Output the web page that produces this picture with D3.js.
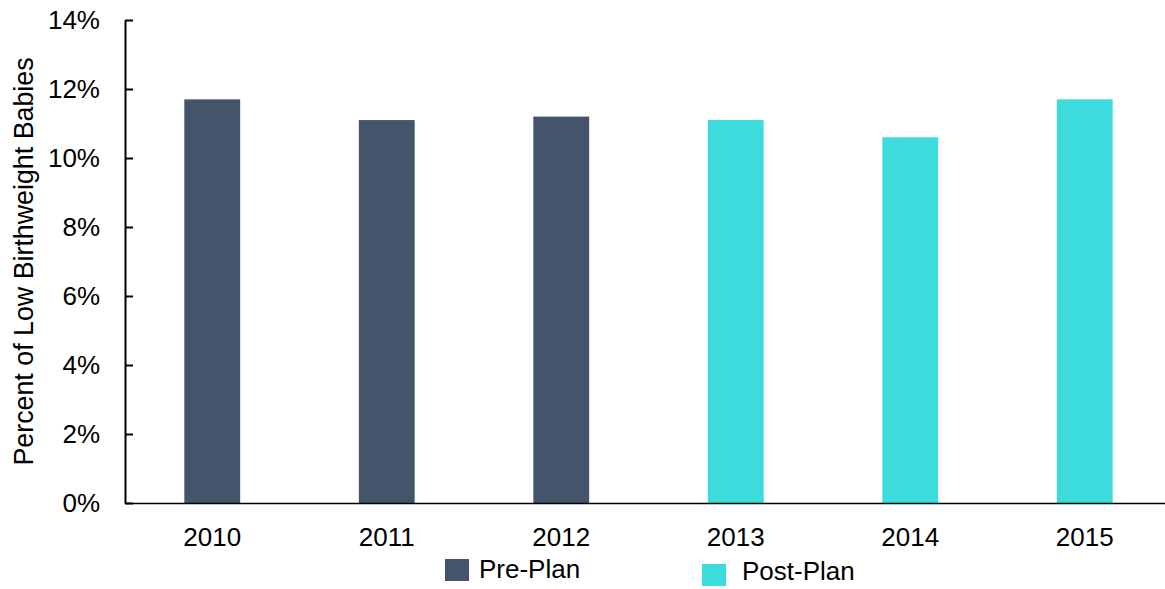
<!DOCTYPE html>
<html>
<head>
<meta charset="utf-8">
<script src="https://cdn.jsdelivr.net/npm/d3@7"></script>
<style>
  html, body { margin: 0; padding: 0; background: #fff; }
  svg { display: block; font-family: "Liberation Sans", Arial, sans-serif; }
</style>
</head>
<body>
<svg id="chart" width="1165" height="589"></svg>
<script>
const years = ["2010", "2011", "2012", "2013", "2014", "2015"];
const values = [11.7, 11.1, 11.2, 11.1, 10.6, 11.7];
const phases = ["Pre-Plan", "Pre-Plan", "Pre-Plan", "Post-Plan", "Post-Plan", "Post-Plan"];
const legendLabels = ["Pre-Plan", "Post-Plan"];
const yTicks = [0, 2, 4, 6, 8, 10, 12, 14];
const colors = ["#44546A", "#3DDCDC"];

(function () {
const svg = d3.select("#chart");
const mLeft = 125, mRight = 1172, mTop = 20, mBottom = 503;
const fs = 26;

const x = d3.scaleBand().domain(years).range([mLeft, mRight])
  .paddingInner(0.68).paddingOuter(0.34);
const y = d3.scaleLinear().domain([0, 14]).range([mBottom, mTop]);
const color = d3.scaleOrdinal().domain(legendLabels).range(colors);

// bars
svg.append("g").selectAll("rect")
  .data(years.map((yr, i) => ({ yr, v: values[i], p: phases[i] })))
  .join("rect")
  .attr("x", d => x(d.yr))
  .attr("y", d => y(d.v))
  .attr("width", x.bandwidth())
  .attr("height", d => y(0) - y(d.v))
  .attr("fill", d => color(d.p));

// y axis
const yAxis = svg.append("g")
  .attr("transform", `translate(${mLeft},0)`)
  .call(d3.axisLeft(y).tickValues(yTicks).tickFormat(d => d + "%")
    .tickSize(-8).tickSizeOuter(0).tickPadding(25));
yAxis.select(".domain").attr("stroke", "#000").attr("stroke-width", 2);
yAxis.selectAll(".tick line").attr("stroke", "#000").attr("stroke-width", 2);
yAxis.selectAll(".tick text").attr("font-size", fs).attr("fill", "#000")
  .attr("font-family", "'Liberation Sans', Arial, sans-serif");

// x axis
const xAxis = svg.append("g")
  .attr("transform", `translate(0,${mBottom})`)
  .call(d3.axisBottom(x).tickSize(0).tickSizeOuter(0).tickPadding(24.5));
xAxis.select(".domain").attr("stroke", "#000").attr("stroke-width", 1.5);
xAxis.selectAll(".tick text").attr("font-size", fs).attr("fill", "#000")
  .attr("font-family", "'Liberation Sans', Arial, sans-serif");

// y axis title
svg.append("text")
  .attr("transform", `translate(33,${(mTop + mBottom) / 2}) rotate(-90)`)
  .attr("text-anchor", "middle")
  .attr("font-size", 26.8)
  .attr("fill", "#000")
  .text("Percent of Low Birthweight Babies");

// legend
const legendPos = [{ sx: 445, sy: 559, tx: 479, ty: 578 }, { sx: 702, sy: 564, tx: 742, ty: 580 }];
legendLabels.forEach((lab, i) => {
  const p = legendPos[i];
  svg.append("rect").attr("x", p.sx).attr("y", p.sy).attr("width", 24).attr("height", 22)
    .attr("fill", color(lab));
  svg.append("text").attr("x", p.tx).attr("y", p.ty).attr("font-size", fs)
    .attr("fill", "#000").text(lab);
});
})();
</script>
</body>
</html>
